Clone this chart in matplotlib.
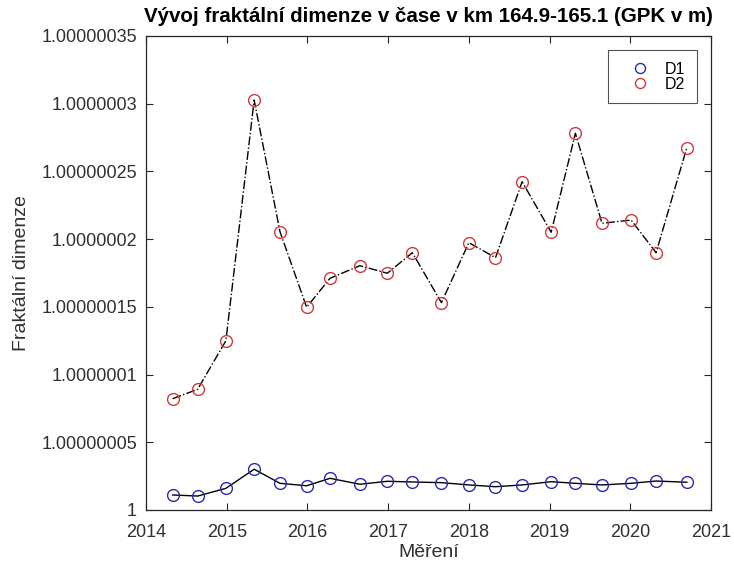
import matplotlib
matplotlib.use("Agg")
import matplotlib.pyplot as plt

plt.rcParams['font.family'] = ['Liberation Sans', 'DejaVu Sans']

dates = [2014.33, 2014.64, 2014.99, 2015.34, 2015.66, 2015.99, 2016.28, 2016.65,
         2016.99, 2017.30, 2017.66, 2018.00, 2018.33, 2018.66, 2019.02, 2019.32,
         2019.65, 2020.01, 2020.32, 2020.70]
d1 = [1.0000000111, 1.0000000103, 1.0000000160, 1.0000000301, 1.0000000197,
      1.0000000179, 1.0000000234, 1.0000000190, 1.0000000212, 1.0000000207,
      1.0000000202, 1.0000000185, 1.0000000172, 1.0000000185, 1.0000000209,
      1.0000000197, 1.0000000185, 1.0000000197, 1.0000000214, 1.0000000205]
d2 = [1.0000000822, 1.0000000891, 1.0000001250, 1.0000003027, 1.0000002055,
      1.0000001497, 1.0000001711, 1.0000001804, 1.0000001748, 1.0000001900,
      1.0000001531, 1.0000001974, 1.0000001863, 1.0000002424, 1.0000002051,
      1.0000002782, 1.0000002117, 1.0000002141, 1.0000001900, 1.0000002675]
yticks = [1.0, 1.00000005, 1.0000001, 1.00000015, 1.0000002, 1.00000025, 1.0000003, 1.00000035]
yticklabels = ['1', '1.00000005', '1.0000001', '1.00000015', '1.0000002',
               '1.00000025', '1.0000003', '1.00000035']
xticks = [2014, 2015, 2016, 2017, 2018, 2019, 2020, 2021]

fig = plt.figure(figsize=(7.34, 5.72), dpi=100)
ax = fig.add_axes([146/734, 62/572, 565/734, 474/572])

ax.plot(dates, d1, '-', color='black', lw=1.0, zorder=2)
ax.plot(dates, d2, '-.', color='black', lw=1.0, zorder=2)
ax.plot(dates, d1, 'o', mfc='none', mec='#2a2ab0', ms=8.5, mew=1.0, label='D1', zorder=3)
ax.plot(dates, d2, 'o', mfc='none', mec='#d03a3a', ms=8.5, mew=1.0, label='D2', zorder=3)

ax.set_xlim(2014, 2021)
ax.set_ylim(1.0, 1.00000035)
ax.set_xticks(xticks)
ax.set_xticklabels([str(x) for x in xticks])
ax.set_yticks(yticks)
ax.set_yticklabels(yticklabels)
ax.tick_params(direction='in', top=True, right=True, labelsize=13, colors='#262626',
               length=5, width=0.8, labelcolor='#303030')
ax.tick_params(axis='y', pad=6.5)
ax.tick_params(axis='x', pad=10)
for s in ax.spines.values():
    s.set_color('#262626')
    s.set_linewidth(0.9)

ax.set_title('Vývoj fraktální dimenze v čase v km 164.9-165.1 (GPK v m)',
             fontsize=14.8, fontweight='bold', pad=10)
ax.set_xlabel('Měření', fontsize=14, color='#303030', labelpad=2)
ax.set_ylabel('Fraktální dimenze', fontsize=14, color='#303030', labelpad=8)

leg = ax.legend(loc='upper right', fontsize=11.5, frameon=True, fancybox=False,
                edgecolor='#262626', borderaxespad=0.9, handletextpad=0.25,
                handlelength=2.6, borderpad=0.72, labelspacing=0.0, markerscale=0.85)
leg.get_frame().set_linewidth(0.8)

fig.savefig('out.png', dpi=100)
